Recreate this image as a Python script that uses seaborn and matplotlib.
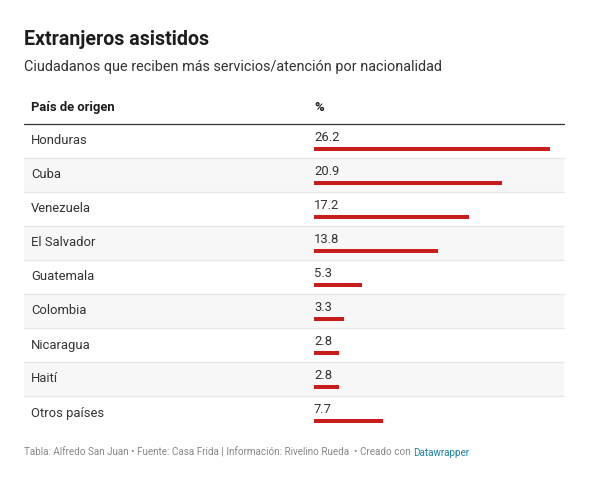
import matplotlib.pyplot as plt
import seaborn as sns
import pandas as pd

# Data
paises = ["Honduras", "Cuba", "Venezuela", "El Salvador", "Guatemala",
          "Colombia", "Nicaragua", "Haití", "Otros países"]
porcentajes = [26.2, 20.9, 17.2, 13.8, 5.3, 3.3, 2.8, 2.8, 7.7]

titulo = "Extranjeros asistidos"
subtitulo = "Ciudadanos que reciben más servicios/atención por nacionalidad"
col_pais = "País de origen"
col_valor = "%"
nota = "Tabla: Alfredo San Juan • Fuente: Casa Frida | Información: Rivelino Rueda  • Creado con "
marca = "Datawrapper"

df = pd.DataFrame({"pais": paises, "pct": porcentajes})

sns.set_style("white")
plt.rcParams['font.family'] = ['Roboto', 'DejaVu Sans']

W, H = 590, 483
fig = plt.figure(figsize=(W / 100, H / 100), dpi=100)
fig.patch.set_facecolor("white")

# background axes in pixel units for the table layout
bg = fig.add_axes([0, 0, 1, 1])
bg.set_xlim(0, W)
bg.set_ylim(H, 0)
bg.axis("off")

TOP = 123.5      # header rule
ROW = 34         # row height
LEFT, RIGHT = 24, 564
BAR_X = 314

# rows: shading and separators
for i in range(len(paises)):
    y0 = TOP + i * ROW
    if i % 2 == 1:
        bg.add_patch(plt.Rectangle((LEFT, y0), RIGHT - LEFT, ROW,
                                   facecolor="#f7f7f7", edgecolor="none"))
    if i < len(paises) - 1:
        bg.plot([LEFT, RIGHT], [y0 + ROW, y0 + ROW], color="#e6e6e6", lw=0.9)
    bg.text(31, y0 + 17.5, paises[i], fontsize=9.4, color="#333333",
            va="center", ha="left")

bg.plot([LEFT, RIGHT], [TOP, TOP], color="#333333", lw=0.9)

# titles and header
bg.text(LEFT, 39.5, titulo, fontsize=14.1, fontweight="bold", color="#1d1d1d",
        va="center", ha="left")
bg.text(LEFT, 66.5, subtitulo, fontsize=10.35, color="#333333",
        va="center", ha="left")
bg.text(31, 107.5, col_pais, fontsize=9.4, fontweight="bold", color="#1d1d1d",
        va="center", ha="left")
bg.text(BAR_X, 107.5, col_valor, fontsize=9.4, fontweight="bold", color="#1d1d1d",
        va="center", ha="left")

# footer
t = bg.text(LEFT, 452.5, nota, fontsize=7.1, color="#888888", va="center", ha="left")
fig.canvas.draw()
bb = t.get_window_extent(renderer=fig.canvas.get_renderer())
x_end = bb.x1 / fig.dpi * 100
bg.text(x_end, 452.5, marca, fontsize=7.1, color="#1d81a2", va="center", ha="left")

# bar axes
px_per_unit = 9.0
off = 25.5 - ROW / 2
ax_top = TOP + off
ax_h = ROW * len(paises)
ax = fig.add_axes([BAR_X / W, (H - ax_top - ax_h) / H, (RIGHT - BAR_X) / W, ax_h / H])
ax.patch.set_alpha(0)
sns.barplot(data=df, x="pct", y="pais", orient="h", color="#c71e1d",
            saturation=1, width=4 / ROW, linewidth=0, ax=ax)
ax.set_xlim(0, (RIGHT - BAR_X) / px_per_unit)
ax.set_ylim(len(paises) - 0.5, -0.5)
ax.axis("off")

for i, v in enumerate(porcentajes):
    ax.text(0, i - 0.33, f"{v}", fontsize=9.4, color="#333333",
            va="center", ha="left")

fig.savefig("out.png", dpi=100, facecolor="white")
